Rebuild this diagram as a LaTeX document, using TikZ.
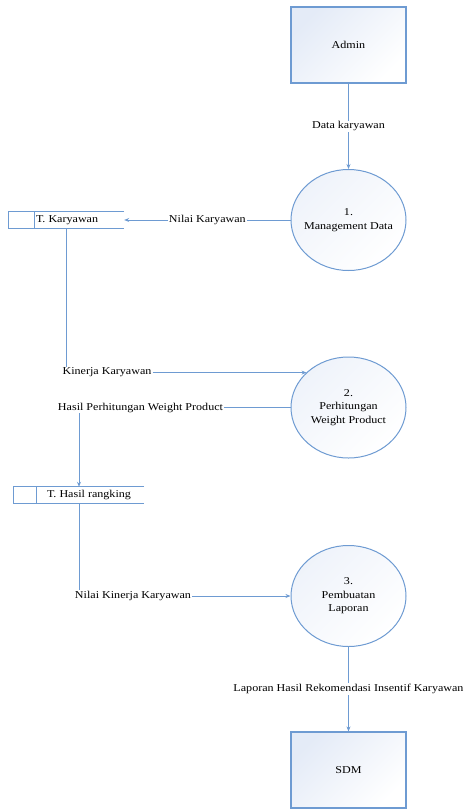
\documentclass[tikz,border=0pt]{standalone}
\usepackage{fontspec}
\setmainfont{Liberation Serif}[FakeStretch=1.15]
\usetikzlibrary{arrows.meta,shapes.geometric}
\definecolor{dfdline}{RGB}{110,155,210}
\definecolor{dfdfill}{RGB}{228,235,247}
\tikzset{
  entity/.style={draw=dfdline, line width=1.2pt, minimum width=115pt, minimum height=76pt,
    top color=dfdfill, bottom color=white, shading angle=45},
  process/.style={ellipse, draw=dfdline, line width=1pt, minimum width=115pt, minimum height=101pt,
    top color=dfdfill!60, bottom color=white, shading angle=45, align=center, inner xsep=-14pt, inner ysep=0pt},
  store/.style={minimum height=16pt, inner sep=0pt},
  storename/.style={anchor=west, inner sep=1pt},
  flow/.style={draw=dfdline, line width=0.9pt},
  lbl/.style={fill=white, inner sep=1pt}
}

\begin{document}
\begin{tikzpicture}[x=1pt, y=-1pt, font=\fontsize{10.5}{13.5}\selectfont,
    >={Stealth[length=5pt, width=4pt]}]
  \useasboundingbox (0,0) rectangle (465,811);
  \node[entity] (admin) at (348.5,45) {Admin};
  \node[process] (mgmt) at (348.5,220) {1.\\Management Data};
  \node[process] (hitung) at (348.5,407.5) {2.\\Perhitungan\\Weight Product};
  \node[process] (laporan) at (348.5,596) {3.\\Pembuatan\\Laporan};
  \node[entity] (sdm) at (348.5,770) {SDM};

  \node[store, minimum width=115pt] (tkary) at (66.5,220) {};
  \node[storename] (tkaryname) at ([xshift=26pt]tkary.west) {T. Karyawan};
  \node[store, minimum width=130pt] (thasil) at (79,495) {};
  \node[storename] (thasilname) at ([xshift=32pt]thasil.west) {T. Hasil rangking};
  \foreach \s/\d in {tkary/26, thasil/23}{
    \draw[flow, line width=1.2pt] (\s.north east) -- (\s.north west) -- (\s.south west) -- (\s.south east);
    \draw[flow, line width=1.2pt] ([xshift=\d pt]\s.north west) -- ([xshift=\d pt]\s.south west);
  }

  \draw[flow, ->] (admin.south) -- node[lbl] {Data karyawan} (mgmt.north);
  \draw[flow, ->] (mgmt.west) -- node[lbl] {Nilai Karyawan} (tkary.east);

  \node[lbl] (kinerja) at (107,372.6) {Kinerja Karyawan};
  \draw[flow] (tkary.south) -- (tkary.south |- kinerja.north);
  \draw[flow, ->] (kinerja.east) -- (kinerja.east -| hitung.140);

  \node[lbl] (hasilwp) at (140.5,407.5) {Hasil Perhitungan Weight Product};
  \draw[flow] (hitung.west) -- (hasilwp.east);
  \draw[flow, ->] (thasil.north |- hasilwp.south) -- (thasil.north);

  \node[lbl] (nilaikin) at (133,596) {Nilai Kinerja Karyawan};
  \draw[flow] (thasil.south) -- (thasil.south |- nilaikin.north);
  \draw[flow, ->] (nilaikin.east) -- (laporan.west);

  \draw[flow, ->] (laporan.south) -- node[lbl] {Laporan Hasil Rekomendasi Insentif Karyawan} (sdm.north);
\end{tikzpicture}
\end{document}
